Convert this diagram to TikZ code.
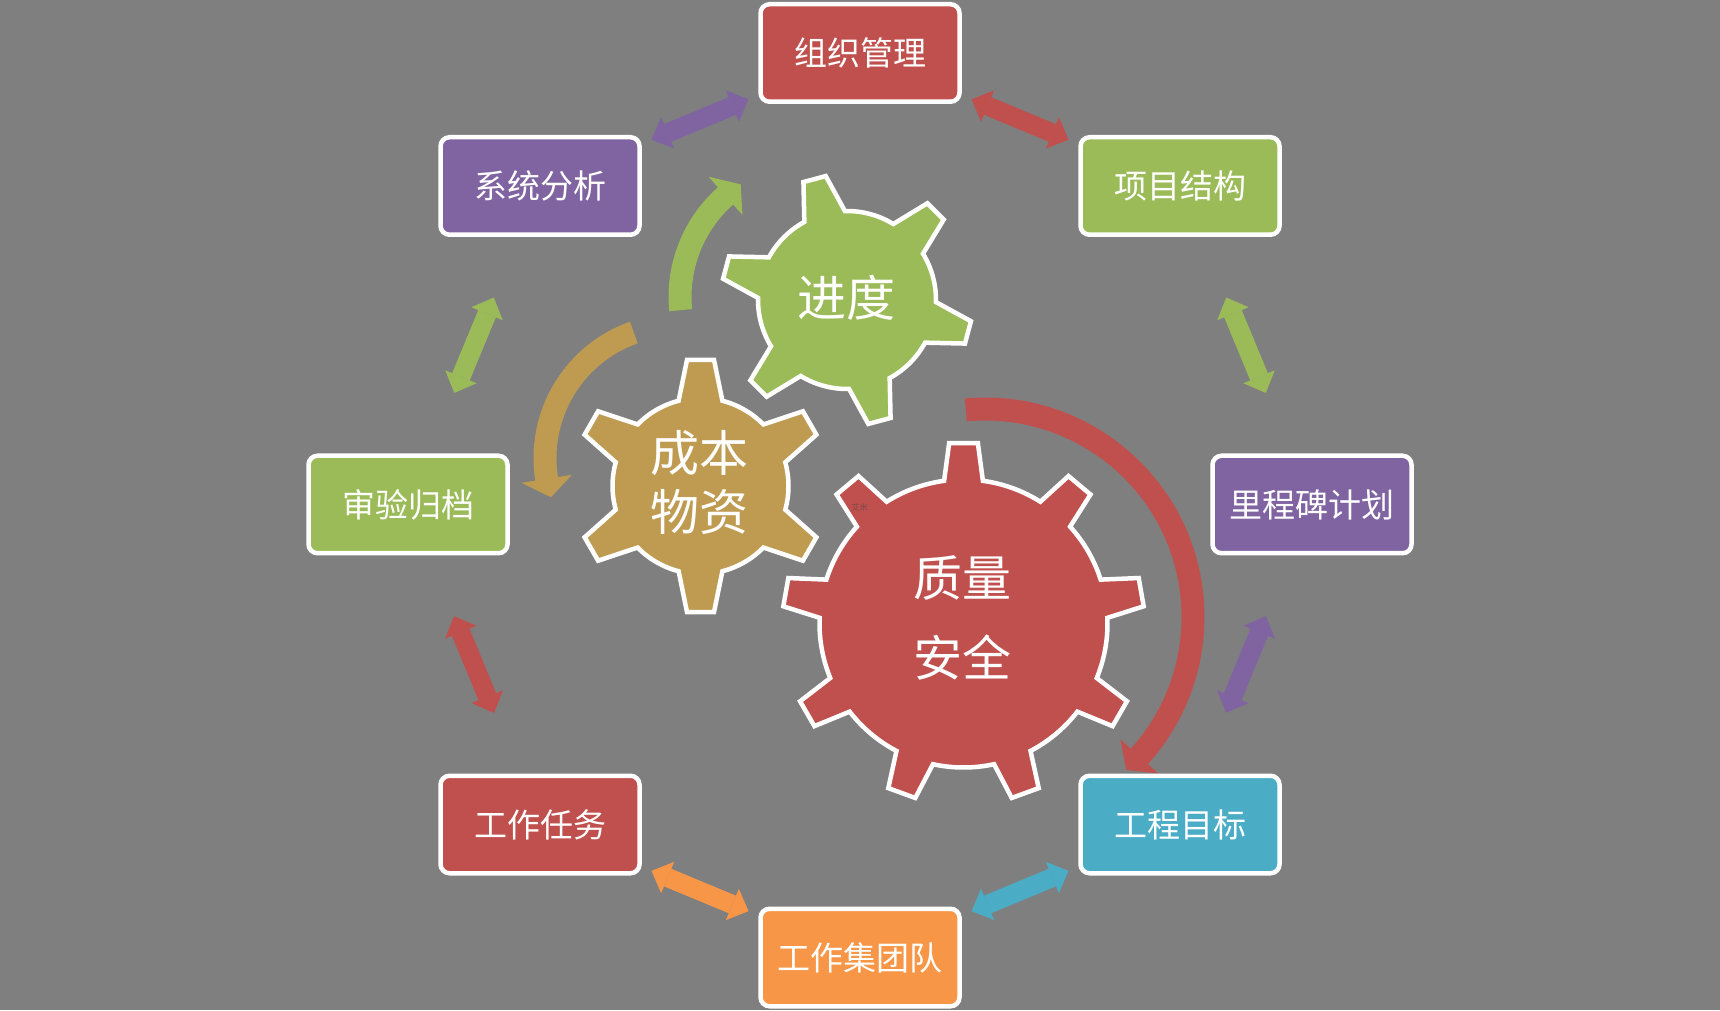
\documentclass[tikz,border=0pt]{standalone}
\usepackage{fontspec}
\newfontfamily\cjk{Noto Sans CJK SC}
\usetikzlibrary{arrows.meta}
\definecolor{bggray}{HTML}{7F7F7F}
\definecolor{cred}{HTML}{C0504D}
\definecolor{cgreen}{HTML}{9BBB59}
\definecolor{cpurple}{HTML}{8064A2}
\definecolor{ccyan}{HTML}{4BACC6}
\definecolor{corange}{HTML}{F79646}
\definecolor{ctan}{HTML}{BF9B52}
\definecolor{cwm}{HTML}{7A4A48}
\tikzset{
  catbox/.style={draw=white, line width=4.5pt, rounded corners=9pt,
    minimum width=199pt, minimum height=97.5pt, inner sep=0pt,
    fill=#1, text=white, font=\cjk\fontsize{33}{40}\selectfont},
  geartext/.style={text=white, align=center, font=\cjk\fontsize{49}{59}\selectfont},
  gearline/.style={draw=white, line width=4.5pt, line join=miter},
  dblarrow/.style={draw=#1, line width=19pt,
    {Triangle[width=34pt,length=17.5pt,line width=0pt]}-{Triangle[width=34pt,length=17.5pt,line width=0pt]},
    shorten <=120.75pt, shorten >=120.75pt},
}
% block arc arrow: color, cx, cy, r, start angle, end angle, tip angle
\newcommand{\blockarc}[7]{%
  \pgfmathsetmacro\arcRo{#4+11.5}\pgfmathsetmacro\arcRi{#4-11.5}%
  \pgfmathsetmacro\arcHo{#4+25.5}\pgfmathsetmacro\arcHi{#4-25.5}%
  \fill[#1, shift={(#2,#3)}] (#5:\arcRo) arc[start angle=#5, end angle=#6, radius=\arcRo]
    -- (#6:\arcHo) -- (#7:#4) -- (#6:\arcHi) -- (#6:\arcRi)
    arc[start angle=#6, end angle=#5, radius=\arcRi] -- cycle;}
% gear: color, cx, cy, teeth, first angle, tip radius, root radius, tip half width, base half width
\newcommand{\mygear}[9]{%
  \pgfmathsetmacro\gS{360/#4}%
  \pgfmathsetmacro\gdb{asin(#9/#7)}%
  \pgfmathsetmacro\gdt{atan(#8/#6)}%
  \pgfmathtruncatemacro\gN{#4-1}%
  \draw[gearline, fill=#1, shift={(#2,#3)}] ({#5-\gdb}:#7)
    \foreach \k in {0,...,\gN} {
      -- ({#5+\k*\gS-\gdt}:#6) -- ({#5+\k*\gS+\gdt}:#6) -- ({#5+\k*\gS+\gdb}:#7)
      arc[start angle={#5+\k*\gS+\gdb}, end angle={#5+(\k+1)*\gS-\gdb}, radius=#7]
    } -- cycle;}
\begin{document}
\begin{tikzpicture}[x=1pt,y=1pt]
\fill[bggray] (0,0) rectangle (1720,1010);
\useasboundingbox (0,0) rectangle (1720,1010);
% curved arrows
\blockarc{cgreen}{815}{713}{135}{185.6}{131.5}{123.4}
\blockarc{ctan}{678}{552}{133}{109.4}{189}{197.2}
\blockarc{cred}{985}{393}{208}{95.3}{-42.1}{-47.3}
% gears
\mygear{ctan}{700.5}{524}{6}{90}{126.75}{88}{13.6}{21.9}
\mygear{cgreen}{847}{710}{6}{105}{125.75}{89}{11.6}{21}
\mygear{cred}{963.5}{386.5}{9}{90}{181}{144}{14.4}{19.4}
% gear labels
\node[geartext] (tprog) at (846,712.5) {进度};
\node[geartext] (tcost) at (699.5,527.25) {成本\\物资};
\node[geartext, font=\cjk\fontsize{49}{80}\selectfont] (tqual) at (962.5,392.5) {质量\\安全};
\node[text=cwm, font=\cjk\fontsize{8}{9}\selectfont] (wm) at (859.5,503) {艾米};
% boxes
\node[catbox=cred] (org) at (860,957) {组织管理};
\node[catbox=cpurple] (sys) at (540,824) {系统分析};
\node[catbox=cgreen] (proj) at (1180,824) {项目结构};
\node[catbox=cgreen] (audit) at (408,505.5) {审验归档};
\node[catbox=cpurple] (mile) at (1312,505.5) {里程碑计划};
\node[catbox=cred] (task) at (540,185.5) {工作任务};
\node[catbox=ccyan] (goal) at (1180,185.5) {工程目标};
\node[catbox=corange] (team) at (860,52.5) {工作集团队};
% double arrows
\draw[dblarrow=cpurple] (sys.center) -- (org.center);
\draw[dblarrow=cred] (org.center) -- (proj.center);
\draw[dblarrow=cgreen] (sys.center) -- (audit.center);
\draw[dblarrow=cgreen] (proj.center) -- (mile.center);
\draw[dblarrow=cpurple] (mile.center) -- (goal.center);
\draw[dblarrow=cred] (audit.center) -- (task.center);
\draw[dblarrow=corange] (task.center) -- (team.center);
\draw[dblarrow=ccyan] (team.center) -- (goal.center);
\end{tikzpicture}
\end{document}
